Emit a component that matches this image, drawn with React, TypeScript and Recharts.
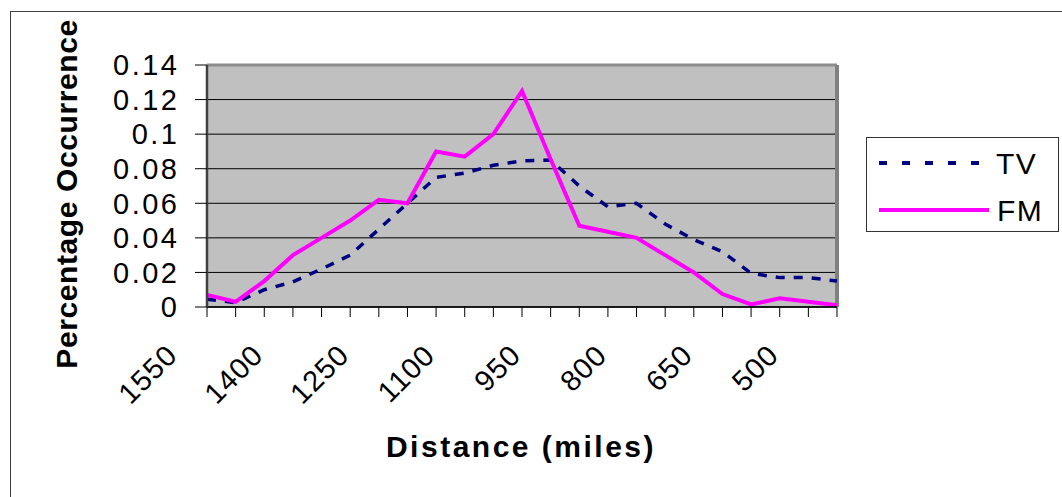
import React from 'react';
import { LineChart, Line, XAxis, YAxis, CartesianGrid, ReferenceLine, Legend } from 'recharts';

const distances = [1550, 1500, 1450, 1400, 1350, 1300, 1250, 1200, 1150, 1100, 1050, 1000, 950, 900, 850, 800, 750, 700, 650, 600, 550, 500, 450];
const tvValues = [0.0045, 0.0025, 0.01, 0.0145, 0.022, 0.03, 0.045, 0.06, 0.075, 0.0775, 0.082, 0.0845, 0.085, 0.07, 0.058, 0.06, 0.048, 0.039, 0.032, 0.0195, 0.017, 0.017, 0.015];
const fmValues = [0.007, 0.003, 0.015, 0.03, 0.04, 0.05, 0.062, 0.06, 0.09, 0.087, 0.1, 0.125, 0.0855, 0.047, 0.0435, 0.04, 0.03, 0.02, 0.0075, 0.0015, 0.005, 0.003, 0.001];
const yTicks = [0, 0.02, 0.04, 0.06, 0.08, 0.1, 0.12, 0.14];
const seriesNames = { tv: 'TV', fm: 'FM' };

const data = distances.map((d, i) => ({ d, tv: tvValues[i], fm: fmValues[i] }));

const FONT = '"Liberation Sans", Arial, Helvetica, sans-serif';

const XTick = (props: any) => {
  const { x, y, payload, index } = props;
  if (index % 3 !== 0) return <g />;
  const ax = x - 28;
  const ay = y + 38;
  return (
    <text x={ax} y={ay} transform={`rotate(-45 ${ax} ${ay})`} textAnchor="end" fontSize={29} fontFamily={FONT} fill="#000" letterSpacing={1}>
      {payload.value}
    </text>
  );
};

const YTick = (props: any) => {
  const { x, y, payload } = props;
  return (
    <text x={x + 2.5} y={y} dy="0.355em" textAnchor="end" fontSize={29} fontFamily={FONT} fill="#000" letterSpacing={2.5}>
      {String(payload.value)}
    </text>
  );
};

const LegendBox = () => (
  <div style={{ width: 191, height: 93, border: '1.5px solid #333', background: '#fff', position: 'relative', boxSizing: 'content-box' }}>
    <svg width={191} height={93} style={{ position: 'absolute', left: 0, top: 0 }}>
      <line x1={12} y1={25} x2={112} y2={25} stroke="#000080" strokeWidth={4} strokeDasharray="8 15" />
      <line x1={12} y1={72} x2={122} y2={72} stroke="#FF00FF" strokeWidth={4} />
      <text x={129} y={36} fontSize={30} fontFamily={FONT} fill="#000" letterSpacing={1.5}>{seriesNames.tv}</text>
      <text x={130} y={83} fontSize={30} fontFamily={FONT} fill="#000" letterSpacing={1.5}>{seriesNames.fm}</text>
    </svg>
  </div>
);

export default function App() {
  return (
    <div style={{ position: 'absolute', left: 0, top: 0, width: 1062, height: 497, overflow: 'hidden', background: '#fff' }}>
      <div style={{ position: 'absolute', left: 10, top: 11, right: -10, bottom: -10, borderTop: '1.5px solid #404040', borderLeft: '1.5px solid #404040' }} />
      <div style={{ position: 'absolute', left: 0, top: 0 }}>
        <LineChart width={1062} height={497} data={data} margin={{ top: 65, right: 225, bottom: 130, left: 147 }}>
          <CartesianGrid vertical={false} horizontal={true} stroke="#000" strokeWidth={1} fill="#C0C0C0" fillOpacity={1} />
          <XAxis
            dataKey="d"
            type="category"
            interval={0}
            height={60}
            tickSize={10}
            tickMargin={2}
            tick={<XTick />}
            axisLine={{ stroke: '#000', strokeWidth: 1.5 }}
            tickLine={{ stroke: '#000', strokeWidth: 1 }}
          />
          <YAxis
            type="number"
            domain={[0, 0.14]}
            ticks={yTicks}
            interval={0}
            width={60}
            tickSize={12}
            tickMargin={18}
            tick={<YTick />}
            axisLine={{ stroke: '#404040', strokeWidth: 2.5 }}
            tickLine={{ stroke: '#000', strokeWidth: 1 }}
          />
          <ReferenceLine y={0.14} stroke="#8c8c8c" strokeWidth={3} />
          <ReferenceLine x={450} stroke="#808080" strokeWidth={4} />
          <Line type="linear" dataKey="tv" name={seriesNames.tv} stroke="#000080" strokeWidth={3.5} strokeDasharray="9 9" dot={false} isAnimationActive={false} />
          <Line type="linear" dataKey="fm" name={seriesNames.fm} stroke="#FF00FF" strokeWidth={4} dot={false} isAnimationActive={false} />
          <Legend
            layout="vertical"
            verticalAlign="middle"
            align="center"
            content={<LegendBox />}
            wrapperStyle={{ position: 'absolute', left: 866, top: 137, width: 194, height: 96 }}
          />
        </LineChart>
      </div>
      <svg width={1062} height={497} style={{ position: 'absolute', left: 0, top: 0, pointerEvents: 'none' }}>
        <text x={521} y={457} textAnchor="middle" fontSize={30} fontWeight="bold" fontFamily={FONT} fill="#000" letterSpacing={2.5}>Distance (miles)</text>
        <text x={77} y={194} transform="rotate(-90 77 194)" textAnchor="middle" fontSize={30} fontWeight="bold" fontFamily={FONT} fill="#000" letterSpacing={0.6}>Percentage Occurrence</text>
      </svg>
    </div>
  );
}
